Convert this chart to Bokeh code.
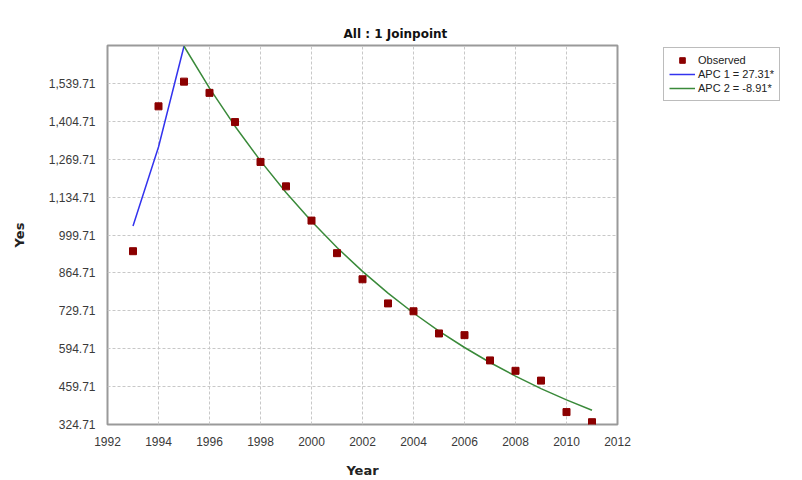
from bokeh.plotting import figure
from bokeh.layouts import row
from bokeh.models import (FixedTicker, NumeralTickFormatter,
                          Legend, LegendItem, Range1d)
from bokeh.embed import file_html
from bokeh.resources import INLINE

# Observed counts per year
years = [1993, 1994, 1995, 1996, 1997, 1998, 1999, 2000, 2001, 2002,
         2003, 2004, 2005, 2006, 2007, 2008, 2009, 2010, 2011]
observed = [942, 1458, 1546, 1506, 1402, 1260, 1173, 1051, 935, 842,
            756, 728, 649, 643, 553, 516, 481, 369, 333]

# Joinpoint segment 1 (APC 27.31*)
seg1_years = [1993, 1994, 1995]
seg1_fit = [1031.6, 1313.3, 1672.0]

# Joinpoint segment 2 (APC -8.91*)
seg2_years = [1995, 1996, 1997, 1998, 1999, 2000, 2001, 2002, 2003,
              2004, 2005, 2006, 2007, 2008, 2009, 2010, 2011]
seg2_fit = [1672.0, 1523.0, 1387.3, 1263.7, 1151.1, 1048.5, 955.1, 870.0,
            792.5, 721.9, 657.6, 599.0, 545.6, 497.0, 452.7, 412.4, 375.6]

y_ticks = [324.71, 459.71, 594.71, 729.71, 864.71, 999.71,
           1134.71, 1269.71, 1404.71, 1539.71]
x_ticks = [1992, 1994, 1996, 1998, 2000, 2002, 2004, 2006, 2008, 2010, 2012]

legend_labels = ["Observed", "APC 1 = 27.31*", "APC 2 = -8.91*"]

OBS_COLOR = "#8b0000"
SEG1_COLOR = "#3333ee"
SEG2_COLOR = "#3a8a3a"

p = figure(width=640, height=480, output_backend="svg", toolbar_location=None,
           x_range=Range1d(1992, 2012), y_range=Range1d(324.71, 1674.71),
           min_border_left=107, min_border_right=23,
           min_border_top=45, min_border_bottom=48,
           title="All : 1 Joinpoint")

p.title.text_font = "DejaVu Sans"
p.title.text_font_size = "12px"
p.title.text_font_style = "bold"
p.title.align = "left"
p.title.offset = 236
p.title.text_color = "#111111"

p.outline_line_color = "#9a9a9a"
p.outline_line_width = 2
p.background_fill_color = "white"
p.border_fill_color = "white"

for g in (p.xgrid, p.ygrid):
    g.grid_line_color = "#c8c8c8"
    g.grid_line_dash = "3 2"
    g.grid_line_width = 1

p.xaxis.ticker = FixedTicker(ticks=x_ticks)
p.yaxis.ticker = FixedTicker(ticks=y_ticks)
p.yaxis.formatter = NumeralTickFormatter(format="0,0.00")

for ax in (p.xaxis, p.yaxis):
    ax.axis_line_color = None
    ax.major_tick_line_color = None
    ax.minor_tick_line_color = None
    ax.major_label_text_font = "Liberation Sans"
    ax.major_label_text_font_size = "12px"
    ax.major_label_text_color = "#3a3a3a"
    ax.axis_label_text_font = "DejaVu Sans"
    ax.axis_label_text_font_size = "13px"
    ax.axis_label_text_font_style = "bold"
    ax.axis_label_text_color = "#222222"

p.xaxis.axis_label = "Year"
p.yaxis.axis_label = "Yes"
p.xaxis.major_label_standoff = 6
p.yaxis.major_label_standoff = 6
p.xaxis.axis_label_standoff = 14
p.yaxis.axis_label_standoff = 19

p.line(seg1_years, seg1_fit, line_color=SEG1_COLOR, line_width=1.5)
p.line(seg2_years, seg2_fit, line_color=SEG2_COLOR, line_width=1.5)
p.scatter(years, observed, marker="square", size=7,
          fill_color=OBS_COLOR, line_color=OBS_COLOR)

# Side panel holding the legend; its ranges keep the swatch series off-view
side = figure(width=162, height=480, output_backend="svg", toolbar_location=None,
              x_range=Range1d(0, 1), y_range=Range1d(0, 1),
              min_border_left=21, min_border_top=45,
              min_border_right=0, min_border_bottom=0)
side.axis.visible = False
side.grid.visible = False
side.outline_line_color = None
side.border_fill_color = "white"

s_obs = side.scatter(years, observed, marker="square", size=5,
                     fill_color=OBS_COLOR, line_color=OBS_COLOR)
s_l1 = side.line(seg1_years, seg1_fit, line_color=SEG1_COLOR, line_width=1.5)
s_l2 = side.line(seg2_years, seg2_fit, line_color=SEG2_COLOR, line_width=1.5)

legend = Legend(items=[
    LegendItem(label=legend_labels[0], renderers=[s_obs]),
    LegendItem(label=legend_labels[1], renderers=[s_l1]),
    LegendItem(label=legend_labels[2], renderers=[s_l2]),
], location="top_left")
legend.label_text_font = "Liberation Sans"
legend.label_text_font_size = "11px"
legend.label_text_color = "#222222"
legend.label_height = 14
legend.glyph_height = 14
legend.glyph_width = 26
legend.spacing = 0
legend.padding = 5
legend.margin = 2
legend.label_standoff = 3
legend.border_line_color = "#7a7a7a"
legend.border_line_width = 1
legend.background_fill_color = "white"
side.add_layout(legend, "center")

layout = row(p, side)
open("out.html", "w").write(file_html(layout, INLINE))
